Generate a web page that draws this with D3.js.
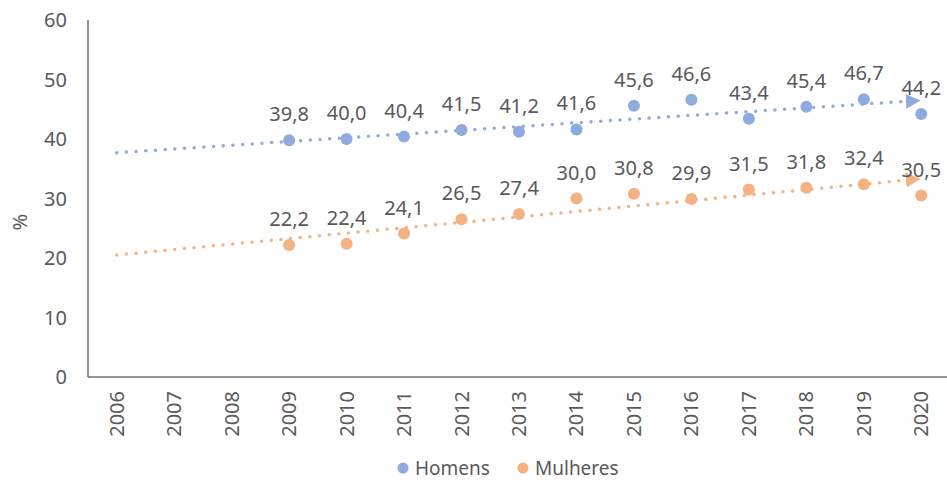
<!DOCTYPE html>
<html>
<head>
<meta charset="utf-8">
<script src="https://cdn.jsdelivr.net/npm/d3@7"></script>
<style>
  body { margin: 0; background: #fff; }
  text { font-family: "Noto Sans", "Open Sans", sans-serif; fill: #595959; }
</style>
</head>
<body>
<div id="chart"></div>
<script>
const years = ['2006', '2007', '2008', '2009', '2010', '2011', '2012', '2013', '2014', '2015', '2016', '2017', '2018', '2019', '2020'];
const dataYears = ['2009', '2010', '2011', '2012', '2013', '2014', '2015', '2016', '2017', '2018', '2019', '2020'];
const homens = [39.8, 40.0, 40.4, 41.5, 41.2, 41.6, 45.6, 46.6, 43.4, 45.4, 46.7, 44.2];
const mulheres = [22.2, 22.4, 24.1, 26.5, 27.4, 30.0, 30.8, 29.9, 31.5, 31.8, 32.4, 30.5];
// trend lines: value at 2006 and at 2020
const trendHomens = [37.7, 46.4];
const trendMulheres = [20.5, 33.2];
const yTicks = [0, 10, 20, 30, 40, 50, 60];
const seriesNames = ['Homens', 'Mulheres'];
const colors = ['#8faadc', '#f4b183'];

const width = 947, height = 482;
const margin = { top: 20, right: 0, bottom: 105, left: 88 };

const svg = d3.select('#chart')
    .append('svg')
    .attr('width', width)
    .attr('height', height);

const x = d3.scaleBand()
    .domain(years)
    .range([margin.left, 950]);

const y = d3.scaleLinear()
    .domain([0, 60])
    .range([height - margin.bottom, margin.top]);

const cx = d => x(d) + x.bandwidth() / 2;

// y axis
svg.append('line')
    .attr('x1', margin.left).attr('x2', margin.left)
    .attr('y1', y(60)).attr('y2', y(0))
    .attr('stroke', '#767171').attr('stroke-width', 1.5);

svg.append('g')
    .selectAll('text')
    .data(yTicks)
    .enter()
    .append('text')
    .attr('x', 67)
    .attr('y', d => y(d))
    .attr('dy', '0.35em')
    .attr('text-anchor', 'end')
    .style('font-size', '20px')
    .text(d => d);

svg.append('text')
    .attr('transform', 'translate(27,' + y(26) + ') rotate(-90)')
    .attr('text-anchor', 'middle')
    .style('font-size', '20px')
    .text('%');

// x axis
svg.append('line')
    .attr('x1', margin.left).attr('x2', width)
    .attr('y1', y(0)).attr('y2', y(0))
    .attr('stroke', '#767171').attr('stroke-width', 1.5);

svg.append('g')
    .selectAll('text')
    .data(years)
    .enter()
    .append('text')
    .attr('transform', d => 'translate(' + (cx(d) + 7) + ',' + (y(0) + 14) + ') rotate(-90)')
    .attr('text-anchor', 'end')
    .style('font-size', '20px')
    .text(d => d);

// arrow markers
const defs = svg.append('defs');
colors.forEach((c, i) => {
    defs.append('marker')
        .attr('id', 'arrow' + i)
        .attr('viewBox', '0 0 10 10')
        .attr('refX', 5).attr('refY', 5)
        .attr('markerWidth', 4.2).attr('markerHeight', 4.2)
        .attr('markerUnits', 'strokeWidth')
        .attr('orient', 'auto')
        .append('path')
        .attr('d', 'M0,0 L10,5 L0,10 Z')
        .attr('fill', c);
});

const series = [
    { name: 'Homens', values: homens, trend: trendHomens },
    { name: 'Mulheres', values: mulheres, trend: trendMulheres }
];

series.forEach((s, i) => {
    const g = svg.append('g').attr('class', 'series-' + i);

    g.append('line')
        .attr('x1', cx('2006')).attr('y1', y(s.trend[0]))
        .attr('x2', cx('2020') - 8).attr('y2', y(s.trend[1]))
        .attr('stroke', colors[i])
        .attr('stroke-width', 3.5)
        .attr('stroke-linecap', 'round')
        .attr('stroke-dasharray', '0,9.7')
        .attr('marker-end', 'url(#arrow' + i + ')');

    g.selectAll('circle')
        .data(s.values)
        .enter()
        .append('circle')
        .attr('cx', (d, j) => cx(dataYears[j]))
        .attr('cy', d => y(d))
        .attr('r', 6)
        .attr('fill', colors[i]);

    g.selectAll('text')
        .data(s.values)
        .enter()
        .append('text')
        .attr('x', (d, j) => cx(dataYears[j]))
        .attr('y', d => y(d) - 19)
        .attr('text-anchor', 'middle')
        .style('font-size', '20px')
        .text(d => d.toFixed(1).replace('.', ','));
});

// legend
const legend = svg.append('g').attr('class', 'legend');
const legendX = [403, 523];
seriesNames.forEach((n, i) => {
    legend.append('circle')
        .attr('cx', legendX[i]).attr('cy', 468)
        .attr('r', 5.5)
        .attr('fill', colors[i]);
    legend.append('text')
        .attr('x', legendX[i] + 12).attr('y', 468)
        .attr('dy', '0.35em')
        .style('font-size', '19px')
        .text(n);
});
</script>
</body>
</html>
